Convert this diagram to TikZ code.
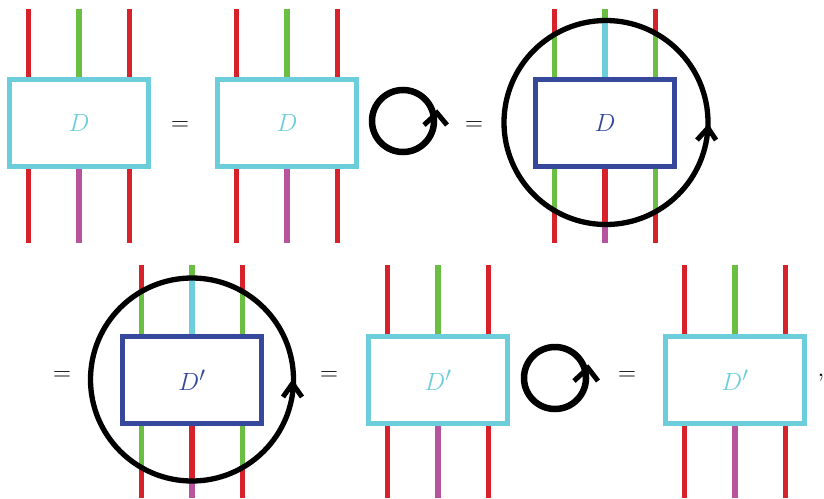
\documentclass[tikz,border=0pt]{standalone}
\usetikzlibrary{calc}
\definecolor{wred}{HTML}{D7212B}
\definecolor{wgreen}{HTML}{6ABF43}
\definecolor{wcyan}{HTML}{6CCEDB}
\definecolor{wmag}{HTML}{B8549E}
\definecolor{dblue}{HTML}{36489C}
\newcommand\bigf{\fontsize{28}{33}\selectfont}
\tikzset{
  wire/.style={line width=5.3pt},
  cbox/.style={draw=wcyan, line width=5.3pt, minimum width=139pt, minimum height=86.7pt, inner sep=0pt, text=wcyan, font=\bigf},
  bbox/.style={draw=dblue, line width=5.3pt, minimum width=139pt, minimum height=86.7pt, inner sep=0pt, text=dblue, font=\bigf},
  bigloop/.style={draw=black, line width=5.3pt},
  smallloop/.style={draw=black, line width=6.5pt},
  chev/.style={draw=black, line width=5pt, line cap=butt, line join=miter},
  eq/.style={font=\bigf, inner sep=0pt}
}
% plain wires: box name, top y, bottom y
\newcommand\drawwires[3]{%
  \foreach \dx/\ct/\cb in {-50.5/wred/wred,0/wgreen/wmag,50.5/wred/wred}{%
    \coordinate (wt) at ($(#1.center)+(\dx,0)$);
    \draw[wire,\ct] (wt |- 0,#2) -- (wt |- #1.north);
    \draw[wire,\cb] (wt |- 0,#3) -- (wt |- #1.south);
  }}
% circled wires: box, top y, bottom y, side top cross, mid top cross, side bottom cross, mid bottom cross
\newcommand\circwires[7]{%
  \foreach \dx/\ya/\yb/\co/\ci/\do/\di in {-50.5/#4/#6/wred/wgreen/wred/wgreen,0/#5/#7/wgreen/wcyan/wmag/wred,50.5/#4/#6/wred/wgreen/wred/wgreen}{%
    \coordinate (wt) at ($(#1.center)+(\dx,0)$);
    \draw[wire,\co] (wt |- 0,#2) -- (wt |- 0,\ya);
    \draw[wire,\ci] (wt |- 0,\ya) -- (wt |- #1.north);
    \draw[wire,\do] (wt |- 0,#3) -- (wt |- 0,\yb);
    \draw[wire,\di] (wt |- 0,\yb) -- (wt |- #1.south);
  }}
\begin{document}
\begin{tikzpicture}[x=1pt,y=-1pt]
\useasboundingbox (0,0) rectangle (824,498);
% ---------- top row ----------
\node[cbox] (b1) at (79,123) {$D$\hspace{6pt}};
\drawwires{b1}{9}{243}
\node[eq] (e1) at (180,126) {$=$};
\node[cbox] (b2) at (287,123) {$D$};
\drawwires{b2}{9}{243}
\coordinate (l1) at (403,121);
\draw[smallloop] (l1) circle (31);
\draw[chev] ($(l1)+(21,4)$) -- ($(l1)+(34,-8)$) -- ($(l1)+(44,4)$);
\node[eq] (e2) at (474,126) {$=$};
\node[bbox] (b3) at (605,123) {$D$};
\circwires{b3}{9}{243}{34}{20.5}{211}{224.5}
\coordinate (c1) at (606,122.5);
\draw[bigloop] (c1) circle (102);
\draw[chev] ($(c1)+(91,17.5)$) -- ($(c1)+(102,5.5)$) -- ($(c1)+(110,17.5)$);
% ---------- bottom row ----------
\node[eq] (e3) at (62,376) {$=$};
\node[bbox] (b4) at (192,380) {$D'$};
\circwires{b4}{265}{498}{291.5}{278}{467.5}{481}
\coordinate (c2) at (192,379.5);
\draw[bigloop] (c2) circle (101.5);
\draw[chev] ($(c2)+(91,17.5)$) -- ($(c2)+(100.5,4)$) -- ($(c2)+(110,17.5)$);
\node[eq] (e4) at (329,376) {$=$};
\node[cbox] (b5) at (438,380) {$D'$};
\drawwires{b5}{265}{498}
\coordinate (l2) at (555,378);
\draw[smallloop] (l2) circle (31);
\draw[chev] ($(l2)+(19,3)$) -- ($(l2)+(33,-10)$) -- ($(l2)+(43,3)$);
\node[eq] (e5) at (627,376) {$=$};
\node[cbox] (b6) at (735,380) {$D'$};
\drawwires{b6}{265}{498}
\node[eq] (cm) at (821,378) {$,$};
\end{tikzpicture}
\end{document}
